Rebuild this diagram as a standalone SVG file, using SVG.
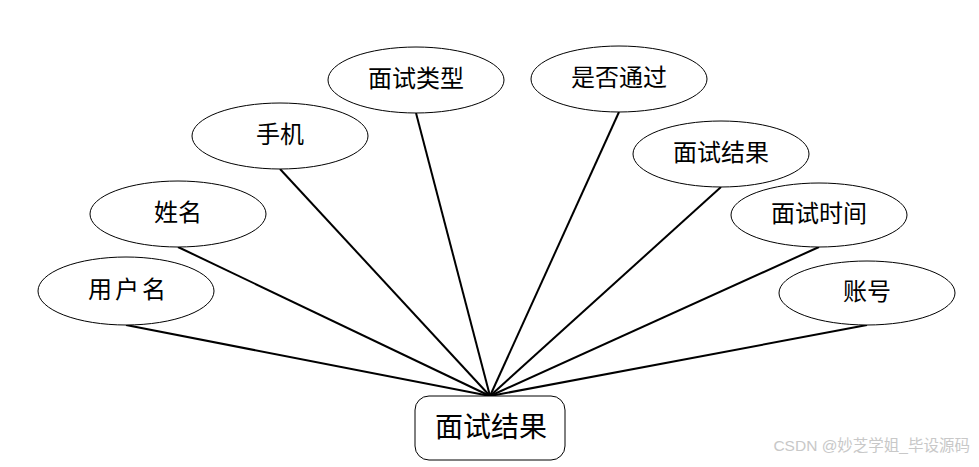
<svg xmlns="http://www.w3.org/2000/svg" width="979" height="467" viewBox="0 0 979 467">
<style>
.attr ellipse{fill:#fff;stroke:#000;stroke-width:1}
.t{font-family:"Liberation Serif","Noto Sans CJK SC",serif;font-size:24px;fill:#000;text-anchor:middle;dominant-baseline:central}
.conn line{stroke:#000;stroke-width:2}
</style>
<rect width="979" height="467" fill="#fff"/>
<g class="conn">
<line x1="126" y1="325" x2="490" y2="396"/>
<line x1="178" y1="247" x2="490" y2="396"/>
<line x1="280" y1="169" x2="490" y2="396"/>
<line x1="416" y1="113" x2="490" y2="396"/>
<line x1="619" y1="112" x2="490" y2="396"/>
<line x1="721" y1="187" x2="490" y2="396"/>
<line x1="819" y1="247" x2="490" y2="396"/>
<line x1="867" y1="325" x2="490" y2="396"/>
</g>
<g id="n-username" class="attr"><ellipse cx="126" cy="291" rx="88" ry="34"/><text class="t" x="127" y="290" textLength="78" lengthAdjust="spacing">用户名</text></g>
<g id="n-name" class="attr"><ellipse cx="178" cy="214" rx="88" ry="33"/><text class="t" x="178" y="213">姓名</text></g>
<g id="n-phone" class="attr"><ellipse cx="280" cy="136" rx="88" ry="33"/><text class="t" x="280" y="135">手机</text></g>
<g id="n-type" class="attr"><ellipse cx="416" cy="80" rx="88" ry="33"/><text class="t" x="416" y="79">面试类型</text></g>
<g id="n-pass" class="attr"><ellipse cx="619" cy="79" rx="88" ry="33"/><text class="t" x="619" y="78">是否通过</text></g>
<g id="n-result" class="attr"><ellipse cx="721" cy="154" rx="88" ry="33"/><text class="t" x="721" y="153">面试结果</text></g>
<g id="n-time" class="attr"><ellipse cx="819" cy="215" rx="88" ry="32"/><text class="t" x="819" y="214">面试时间</text></g>
<g id="n-account" class="attr"><ellipse cx="867" cy="293" rx="88" ry="32"/><text class="t" x="867" y="292">账号</text></g>
<g id="n-entity"><rect x="415" y="396" width="150" height="64" rx="14" fill="#fff" stroke="#000" stroke-width="1"/><text class="t" x="491" y="427" style="font-size:28px">面试结果</text></g>
<text x="970" y="451" style="font-family:'Liberation Sans','Noto Sans CJK SC',sans-serif;font-size:15.5px;fill:#c8c8c8;text-anchor:end">CSDN @妙芝学姐_毕设源码</text>
</svg>
